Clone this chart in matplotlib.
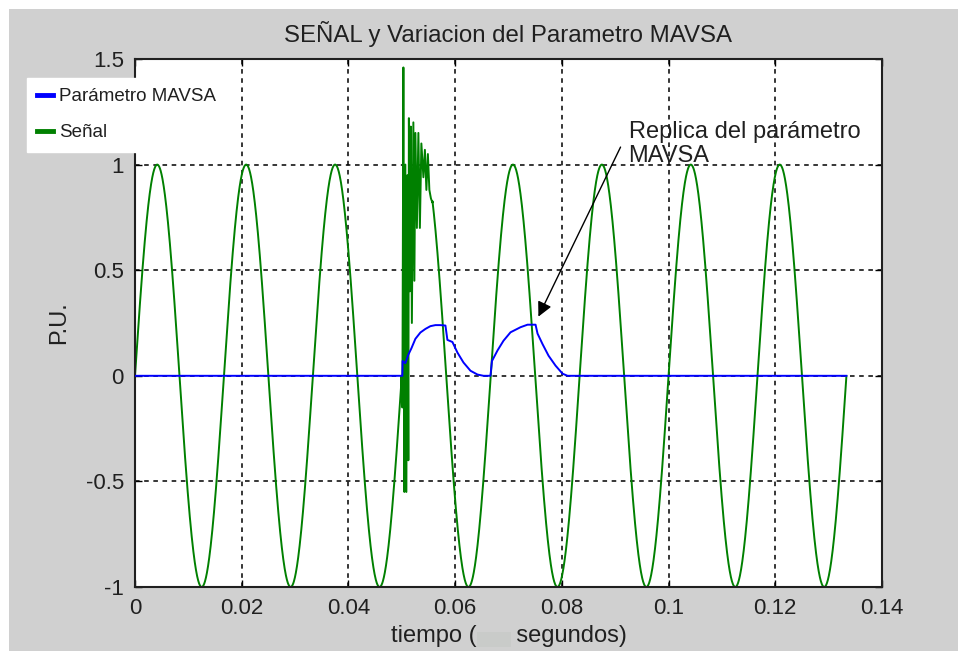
import numpy as np
import matplotlib
matplotlib.use("Agg")
import matplotlib.pyplot as plt
from matplotlib.patches import Rectangle
from matplotlib.lines import Line2D

plt.rcParams['font.family'] = ['Liberation Sans', 'DejaVu Sans']

# ---- data -------------------------------------------------------------
# steady 60 Hz signal (per unit)
sig_freq_hz = 60.0
sig_amplitude = 1.0
t_end = 0.13333

# fault transient superimposed on the signal (time s, value p.u.)
t_transient = [0.04992, 0.05011, 0.05030, 0.05048, 0.05067, 0.05086, 0.05105,
               0.05123, 0.05133, 0.05152, 0.05170, 0.05189, 0.05217, 0.05236,
               0.05255, 0.05283, 0.05311, 0.05339, 0.05367, 0.05405, 0.05433,
               0.05461, 0.05489, 0.05517, 0.05546, 0.05574]
v_transient = [0.00, -0.15, 1.46, -0.55, 1.00, -0.55, 0.95,
               -0.40, 1.22, 0.40, 1.18, 0.25, 1.20, 0.45,
               1.15, 0.70, 1.15, 0.70, 1.10, 0.94, 1.07,
               0.88, 1.05, 0.88, 0.84, 0.82]

# MAVSA parameter (time s, value p.u.)
t_mavsa = [0.0, 0.0501, 0.05015, 0.05067, 0.05123, 0.0518, 0.05255, 0.05349,
           0.05443, 0.05536, 0.0563, 0.05724, 0.05818, 0.05855, 0.05949,
           0.06043, 0.06156, 0.06287, 0.06418, 0.06531, 0.06662, 0.0669,
           0.06794, 0.06906, 0.07038, 0.07225, 0.07357, 0.07507, 0.07544,
           0.07638, 0.07751, 0.07882, 0.08013, 0.08107, 0.13333]
v_mavsa = [0.0, 0.0, 0.07, 0.06, 0.10, 0.13, 0.175, 0.205,
           0.222, 0.235, 0.24, 0.24, 0.238, 0.17, 0.16,
           0.11, 0.063, 0.024, 0.006, 0.0, 0.0, 0.07,
           0.12, 0.166, 0.206, 0.23, 0.242, 0.242, 0.20,
           0.15, 0.095, 0.048, 0.01, 0.0, 0.0]

x_ticks = [0, 0.02, 0.04, 0.06, 0.08, 0.1, 0.12, 0.14]
x_tick_labels = ['0', '0.02', '0.04', '0.06', '0.08', '0.1', '0.12', '0.14']
y_ticks = [-1, -0.5, 0, 0.5, 1, 1.5]
y_tick_labels = ['-1', '-0.5', '0', '0.5', '1', '1.5']

# ---- signal assembly --------------------------------------------------
t_base = np.linspace(0, t_end, 3000)
v_base = sig_amplitude * np.sin(2 * np.pi * sig_freq_hz * t_base)
before = t_base < t_transient[0]
after = t_base > t_transient[-1]
t_sig = np.concatenate([t_base[before], t_transient, t_base[after]])
v_sig = np.concatenate([v_base[before], v_transient, v_base[after]])

# ---- figure -----------------------------------------------------------
W, H = 958, 651
fig = plt.figure(figsize=(W / 100, H / 100), dpi=100)
fig.patch.set_facecolor('white')
fig.patches.append(Rectangle((9 / W, 0), 1, 1 - 9 / H, transform=fig.transFigure,
                             facecolor='#d0d0d0', edgecolor='none', zorder=-10))

ax = fig.add_axes([135 / W, 1 - 587 / H, (882 - 135) / W, (587 - 59) / H])
ax.set_facecolor('white')

ax.plot(t_mavsa, v_mavsa, color='#0000ff', lw=1.4, zorder=3)
ax.plot(t_sig, v_sig, color='#008000', lw=1.4, zorder=2)

ax.set_xlim(0, 0.14)
ax.set_ylim(-1, 1.5)
ax.set_xticks(x_ticks)
ax.set_xticklabels(x_tick_labels)
ax.set_yticks(y_ticks)
ax.set_yticklabels(y_tick_labels)
ax.tick_params(direction='in', length=5, width=1, labelsize=16, colors='black',
               top=True, right=True, pad=8)
ax.tick_params(labelcolor='#202020')
ax.grid(True, color='black', linestyle=(0, (3, 3)), lw=1.1)
for s in ax.spines.values():
    s.set_linewidth(1.5)
    s.set_color('#202020')

ax.set_title('SEÑAL y Variacion del Parametro MAVSA', fontsize=17.3, pad=12,
             color='#202020')
ax.set_ylabel('P.U.', fontsize=17, labelpad=11, color='#202020')
ax.set_xlabel('tiempo (      segundos)', fontsize=17, labelpad=4,
              color='#202020')
fig.patches.append(Rectangle((477 / W, 1 - 647 / H), 34 / W, 15 / H,
                             transform=fig.transFigure, facecolor='#c9cbc9',
                             edgecolor='none', zorder=5))

# annotation arrow and text
ax.annotate('', xy=(0.0756, 0.28), xytext=(0.0910, 1.083),
            arrowprops=dict(arrowstyle='-|>', color='black', lw=1.0,
                            mutation_scale=22, shrinkA=0, shrinkB=0))
ax.text(0.0925, 1.205, 'Replica del parámetro\nMAVSA', fontsize=17,
        va='top', ha='left', color='#202020', linespacing=1.12)

handles = [Line2D([], [], color='#0000ff', lw=3.5),
           Line2D([], [], color='#008000', lw=3.5)]
leg = fig.legend(handles, ['Parámetro MAVSA', 'Señal'], loc='upper left',
                 bbox_to_anchor=(27 / W, 1 - 78 / H), fontsize=13.5,
                 frameon=True, fancybox=False, edgecolor='white',
                 facecolor='white', framealpha=1, handlelength=0.85,
                 handletextpad=0.3, labelspacing=1.0, borderpad=0.55,
                 borderaxespad=0)
for txt in leg.get_texts():
    txt.set_color('#202020')
leg.set_zorder(10)

fig.savefig('out.png', dpi=100)
